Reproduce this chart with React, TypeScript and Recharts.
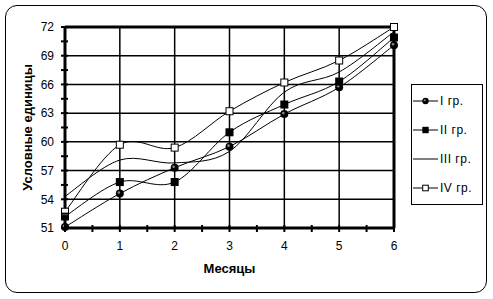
import React from 'react';
import { Legend, Line, LineChart, ReferenceLine, XAxis, YAxis } from 'recharts';

const months = [0, 1, 2, 3, 4, 5, 6];
const groupI = [51.1, 54.6, 57.3, 59.5, 62.9, 65.7, 70.1];
const groupII = [52.2, 55.8, 55.8, 61.0, 63.9, 66.3, 70.9];
const groupIII = [54.3, 58.1, 57.8, 59.0, 65.2, 67.3, 71.5];
const groupIV = [52.7, 59.7, 59.4, 63.2, 66.2, 68.5, 72.0];

const seriesNames = ['I гр.', 'II гр.', 'III гр.', 'IV гр.'];
const seriesKeys = ['g1', 'g2', 'g3', 'g4'];
const seriesMarkers = ['ball', 'square', 'none', 'open'];

const xTicks = [0, 0.5, 1, 1.5, 2, 2.5, 3, 3.5, 4, 4.5, 5, 5.5, 6];
const yTicks = [51, 52.5, 54, 55.5, 57, 58.5, 60, 61.5, 63, 64.5, 66, 67.5, 69, 70.5, 72];
const yLabels = [51, 54, 57, 60, 63, 66, 69, 72];
const xGrid = [1, 2, 3, 4, 5];
const yGrid = [54, 57, 60, 63, 66, 69];

const data = months.map((m, i) => ({
  month: m,
  g1: groupI[i],
  g2: groupII[i],
  g3: groupIII[i],
  g4: groupIV[i],
}));

const X_MARGIN = 10;
const Y_MARGIN = 10;

// smooth line like the old excel one (catmull-rom, 1/6 tension)
const excelSmooth = (context: any) => {
  let pts: number[][] = [];
  return {
    areaStart() {},
    areaEnd() {},
    lineStart() {
      pts = [];
    },
    point(x: number, y: number) {
      pts.push([+x, +y]);
    },
    lineEnd() {
      if (!pts.length) return;
      context.moveTo(pts[0][0], pts[0][1]);
      for (let i = 0; i < pts.length - 1; i++) {
        const p0 = pts[i - 1] || pts[i];
        const p1 = pts[i];
        const p2 = pts[i + 1];
        const p3 = pts[i + 2] || p2;
        context.bezierCurveTo(
          p1[0] + (p2[0] - p0[0]) / 6,
          p1[1] + (p2[1] - p0[1]) / 6,
          p2[0] - (p3[0] - p1[0]) / 6,
          p2[1] - (p3[1] - p1[1]) / 6,
          p2[0],
          p2[1]
        );
      }
    },
  };
};

const Marker = ({ kind, cx, cy, s = 1 }: { kind: string; cx: number; cy: number; s?: number }) => {
  if (kind === 'ball') {
    return (
      <g>
        <circle cx={cx} cy={cy} r={4 * s} fill="#000" />
        <circle cx={cx - s} cy={cy - s} r={1.3 * s} fill="#888" />
      </g>
    );
  }
  if (kind === 'square') return <rect x={cx - 4 * s} y={cy - 4 * s} width={8 * s} height={8 * s} fill="#000" />;
  if (kind === 'open')
    return <rect x={cx - 3.5 * s} y={cy - 3.5 * s} width={7 * s} height={7 * s} fill="#fff" stroke="#000" strokeWidth={1} />;
  return null;
};

const makeDot = (kind: string) => (props: any) => (
  <Marker key={`${kind}-${props.index}`} kind={kind} cx={props.cx} cy={props.cy} />
);

const XTick = (props: any) => {
  const { x, y, payload } = props;
  const axisY = y - X_MARGIN;
  const v = payload.value;
  return (
    <g>
      <line x1={x} x2={x} y1={axisY - 3} y2={axisY + 4} stroke="#000" strokeWidth={2} />
      {Number.isInteger(v) && (
        <text x={x} y={axisY + 22} textAnchor="middle" fontSize={12} fill="#000">
          {v}
        </text>
      )}
    </g>
  );
};

const YTick = (props: any) => {
  const { x, y, payload } = props;
  const axisX = x + Y_MARGIN;
  const v = payload.value;
  return (
    <g>
      <line x1={axisX - 4} x2={axisX + 3} y1={y} y2={y} stroke="#000" strokeWidth={2} />
      {yLabels.includes(v) && (
        <text x={axisX - 11} y={y + 4.3} textAnchor="end" fontSize={12} fill="#000">
          {v}
        </text>
      )}
    </g>
  );
};

const XTitle = (props: any) => {
  const vb = props.viewBox;
  return (
    <text x={vb.x + vb.width / 2} y={vb.y + 44.6} textAnchor="middle" fontSize={13} fontWeight="bold" fill="#000">
      Месяцы
    </text>
  );
};

const YTitle = (props: any) => {
  const vb = props.viewBox;
  const cx = 32;
  const cy = vb.y + vb.height / 2;
  return (
    <text x={cx} y={cy} transform={`rotate(-90 ${cx} ${cy})`} textAnchor="middle" fontSize={13} fontWeight="bold" fill="#000">
      Условные единицы
    </text>
  );
};

const LegendBox = () => (
  <div style={{ width: 72, height: 121, border: '1px solid #000', boxSizing: 'border-box', background: '#fff', position: 'relative' }}>
    {seriesNames.map((name, i) => (
      <div key={name} style={{ position: 'absolute', left: 1, top: 8 + i * 29, height: 16, display: 'flex', alignItems: 'center' }}>
        <svg width={26} height={16} style={{ display: 'block' }}>
          <line x1={0} x2={25} y1={8} y2={8} stroke="#000" strokeWidth={1} />
          <Marker kind={seriesMarkers[i]} cx={12.5} cy={8} s={0.8} />
        </svg>
        <span style={{ fontSize: 12, letterSpacing: 0.5, marginLeft: 1, color: '#000', lineHeight: '16px' }}>{name}</span>
      </div>
    ))}
  </div>
);

export default function App() {
  return (
    <div style={{ position: 'absolute', left: 0, top: 0, width: 493, height: 299, fontFamily: '"Liberation Sans", Arial, sans-serif', background: '#fff' }}>
      <div
        style={{
          position: 'absolute',
          left: 5,
          top: 5,
          width: 482,
          height: 288,
          border: '1px solid #000',
          borderRadius: 12,
          boxSizing: 'border-box',
        }}
      />
      <LineChart width={493} height={299} data={data} margin={{ top: 27, right: 99, bottom: 31, left: 15 }}>
        {xGrid.map((v) => (
          <ReferenceLine key={`vx${v}`} x={v} stroke="#000" strokeWidth={1.5} />
        ))}
        {yGrid.map((v) => (
          <ReferenceLine key={`hy${v}`} y={v} stroke="#000" strokeWidth={1.5} />
        ))}
        <ReferenceLine y={72} stroke="#000" strokeWidth={3} />
        <ReferenceLine x={6} stroke="#000" strokeWidth={3} />
        <XAxis
          dataKey="month"
          type="number"
          domain={[0, 6]}
          ticks={xTicks}
          interval={0}
          height={40}
          tickSize={0}
          tickMargin={X_MARGIN}
          tickLine={false}
          axisLine={{ stroke: '#000', strokeWidth: 3 }}
          tick={<XTick />}
          label={{ content: XTitle }}
        />
        <YAxis
          type="number"
          domain={[51, 72]}
          ticks={yTicks}
          interval={0}
          width={50}
          tickSize={0}
          tickMargin={Y_MARGIN}
          tickLine={false}
          axisLine={{ stroke: '#000', strokeWidth: 3 }}
          tick={<YTick />}
          label={{ content: YTitle }}
        />
        {seriesKeys.map((k, i) => (
          <Line
            key={k}
            dataKey={k}
            name={seriesNames[i]}
            type={excelSmooth as any}
            stroke="#000"
            strokeWidth={1}
            dot={seriesMarkers[i] === 'none' ? false : makeDot(seriesMarkers[i])}
            activeDot={false}
            isAnimationActive={false}
          />
        ))}
        <Legend
          layout="vertical"
          align="center"
          verticalAlign="middle"
          content={<LegendBox />}
          wrapperStyle={{ left: 411, top: 84, width: 72, height: 121 }}
        />
      </LineChart>
    </div>
  );
}
